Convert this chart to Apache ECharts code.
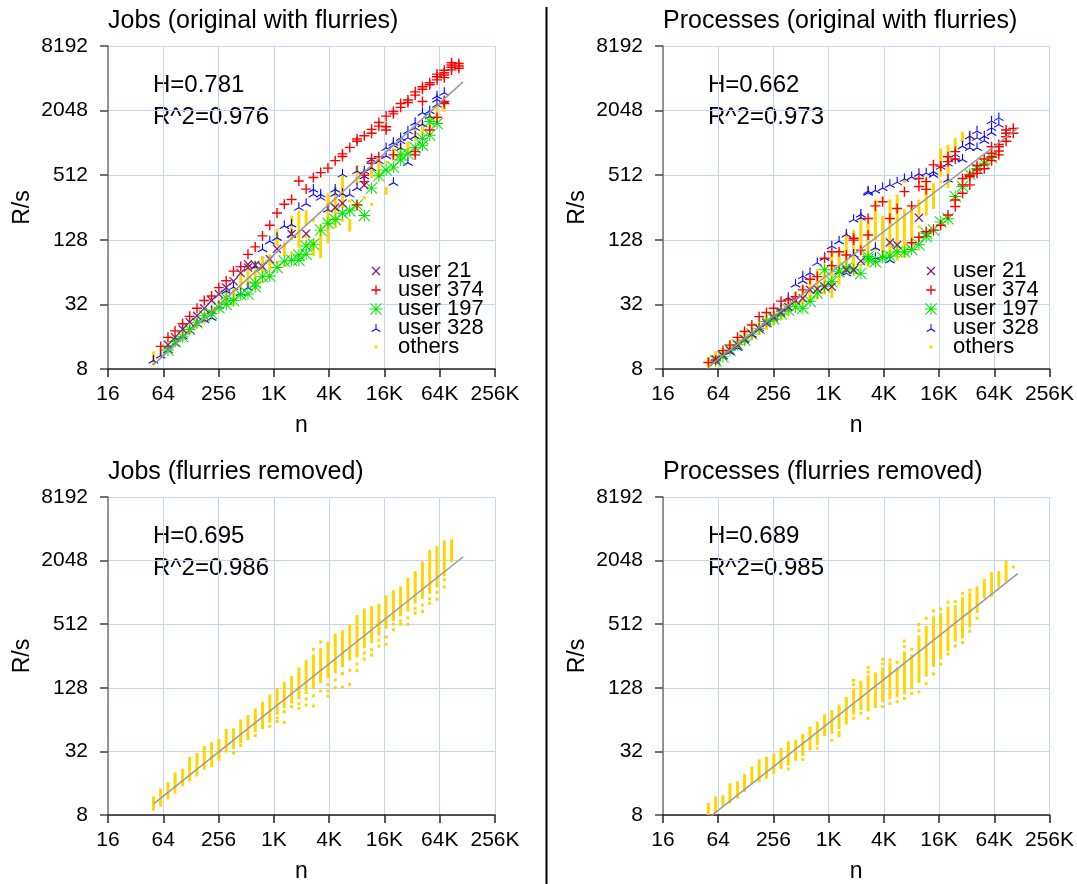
<!DOCTYPE html>
<html><head><meta charset="utf-8">
<script src="https://cdn.jsdelivr.net/npm/echarts@6/dist/echarts.min.js"></script>
<style>html,body{margin:0;padding:0;background:#fff}#c{width:1077px;height:884px}</style>
</head><body><div id="c"></div>
<script>
// Column positions: block sizes n (x values)
const nValues = [50,60,72,86,104,124,149,179,215,258,310,372,446,535,642,770,925,1109,1331,1597,1917,2300,2760,3312,3974,4769,5723,6868,8241,9890,11868,14241,17089,20507,24608,29530,35436,42523,51028,61234,73480,88176,105811];
const xTickLabels = ['16','64','256','1K','4K','16K','64K','256K'];
const yTickLabels = ['8','32','128','512','2048','8192'];
const panelTitles = ['Jobs (original with flurries)','Processes (original with flurries)','Jobs (flurries removed)','Processes (flurries removed)'];
const panelStats = [['H=0.781','R^2=0.976'],['H=0.662','R^2=0.973'],['H=0.695','R^2=0.986'],['H=0.689','R^2=0.985']];
const legendNames = ['user 21','user 374','user 197','user 328','others'];

// fit lines: [log2 n, log2 R/s]
const tlFitLine = [[5.63,3.12],[16.84,11.89]];
const trFitLine = [[5.64,3.07],[16.88,10.47]];
const blFitLine = [[5.66,3.36],[16.85,11.12]];
const brFitLine = [[5.64,2.90],[16.85,10.59]];

// user points: [column index into nValues, log2 R/s]
const tlUser374 = [[1,3.70],[2,3.98],[3,4.18],[4,4.40],[5,4.63],[6,4.88],[7,5.12],[8,5.26],[9,5.52],[10,5.73],[11,6.03],[12,6.17],[13,6.55],[14,6.78],[15,7.12],[16,7.45],[17,7.83],[18,8.10],[19,8.25],[20,8.82],[21,8.57],[22,8.93],[23,9.08],[24,9.22],[25,9.45],[26,9.66],[26,9.58],[27,9.86],[28,10.12],[28,10.05],[29,10.22],[30,10.42],[30,10.30],[31,10.63],[31,10.52],[32,10.83],[32,10.50],[32,10.40],[33,10.97],[33,10.90],[34,11.22],[34,11.10],[35,11.33],[35,11.25],[36,11.48],[36,11.58],[37,11.74],[37,11.66],[38,11.86],[38,11.80],[39,12.05],[39,12.13],[39,11.95],[40,12.17],[40,12.25],[40,12.10],[40,12.02],[41,12.41],[41,12.34],[41,12.48],[41,12.26],[42,12.46],[42,12.31],[42,12.38],
  [28,8.08],[29,8.80],[29,9.00],[30,9.37],[30,9.52],[31,9.57],[33,9.63],[36,9.63],[36,9.73],[37,11.28],[38,10.40],[39,10.79],[40,11.22],[40,11.28]];
const tlUser328 = [[0,3.30],[1,3.45],[2,3.62],[3,3.82],[4,4.05],[5,4.22],[6,4.43],[7,4.55],[8,4.62],[8,4.83],[9,4.98],[10,5.45],[11,5.57],[12,5.39],[13,5.55],[14,6.20],[15,6.74],[16,6.99],[17,7.10],[18,7.46],[19,7.51],[19,7.20],[20,8.03],[21,8.15],[22,8.44],[22,8.59],[23,8.34],[23,8.44],[24,7.97],[25,8.46],[25,8.59],[26,8.46],[26,9.06],[27,8.44],[28,8.64],[28,9.16],[29,9.00],[29,9.16],[30,9.26],[30,9.52],[31,9.47],[32,9.63],[32,9.88],[33,10.04],[33,9.96],[33,8.80],[34,10.09],[34,9.88],[34,10.19],[35,10.19],[35,10.40],[35,9.42],[36,10.66],[36,10.50],[36,10.24],[37,10.61],[37,10.97],[38,11.02],[38,10.86],[39,11.22],[39,11.38],[39,11.48],[40,11.59],[40,11.33]];
const tlUser197 = [[2,3.59],[3,3.85],[4,4.00],[5,4.22],[6,4.43],[7,4.65],[8,4.72],[9,4.90],[10,5.00],[10,5.19],[11,5.12],[12,5.30],[13,5.32],[14,5.55],[14,5.67],[15,5.86],[16,5.88],[17,6.14],[18,6.34],[19,6.37],[20,6.37],[20,6.53],[21,6.55],[21,6.81],[22,6.86],[23,7.30],[24,7.51],[25,7.63],[26,7.82],[27,7.90],[28,8.08],[29,7.75],[30,8.60],[31,8.98],[32,9.16],[33,9.25],[34,9.47],[34,9.63],[35,9.66],[36,9.85],[37,10.14],[37,9.93],[38,10.24],[38,10.66],[39,10.60]];
const tlUser21 = [[2,3.75],[3,3.98],[4,4.23],[5,4.45],[6,4.65],[7,4.88],[8,5.12],[9,5.32],[10,5.52],[11,5.72],[12,5.97],[13,6.14],[13,6.24],[14,6.22],[15,6.17],[16,6.40],[17,6.72],[19,7.18],[21,7.19],[25,8.00],[26,8.13],[29,8.70]];

const trUser374 = [[0,3.20],[1,3.28],[2,3.57],[3,3.74],[4,3.98],[5,4.16],[6,4.36],[7,4.62],[8,4.75],[9,4.88],[10,5.10],[11,5.14],[12,5.24],[13,5.45],[14,5.78],[15,5.86],[16,6.43],[17,6.20],[17,6.63],[18,6.63],[19,6.53],[20,6.99],[20,7.05],[21,6.68],[22,7.66],[22,7.15],[23,8.05],[24,8.18],[25,7.66],[26,7.97],[27,8.49],[28,8.05],[29,8.65],[29,8.90],[30,8.80],[30,8.56],[31,9.32],[32,9.28],[33,9.57],[33,9.42],[34,9.73],[34,9.50],
  [28,6.91],[29,7.08],[30,7.25],[31,7.30],[32,7.45],[33,7.77],[34,8.23],[34,8.03],[35,8.70],[35,8.44],[35,8.90],[36,8.95],[36,9.00],[36,8.70],[37,9.16],[37,9.06],[37,9.30],[38,9.32],[38,9.20],[38,9.50],[39,9.68],[39,9.57],[39,9.88],[39,9.45],[40,9.88],[40,9.63],[40,9.75],[40,9.95],[41,10.19],[41,10.30],[41,10.40],[41,10.05],[42,10.30],[42,10.45]];
const trUser328 = [[1,3.25],[2,3.43],[3,3.55],[4,3.69],[5,3.95],[6,4.10],[7,4.30],[8,4.50],[9,4.65],[10,4.90],[11,5.24],[12,5.65],[13,5.91],[13,5.76],[14,6.01],[15,6.32],[16,6.48],[17,6.84],[18,6.99],[18,6.05],[19,7.20],[19,6.00],[20,7.66],[20,6.58],[21,7.82],[21,7.72],[22,8.49],[22,8.54],[23,8.56],[23,6.79],[23,6.48],[24,8.64],[24,6.53],[25,8.74],[25,6.40],[26,8.82],[27,8.92],[28,8.98],[29,9.08],[30,9.10],[31,9.14],[31,9.05],[32,9.30],[33,9.40],[33,8.90],[34,9.68],[34,9.55],[35,9.93],[35,9.52],[36,10.04],[36,10.24],[36,9.88],[37,10.19],[37,10.40],[37,9.88],[38,10.24],[38,10.10],[39,10.35],[39,10.50],[39,10.71],[40,10.81],[40,10.60]];
const trUser197 = [[1,3.25],[2,3.38],[3,3.59],[4,3.75],[5,3.90],[6,4.08],[7,4.25],[8,4.47],[9,4.55],[10,4.70],[11,4.83],[12,4.93],[13,4.88],[14,5.10],[15,5.35],[16,5.55],[16,6.07],[17,5.70],[18,6.01],[19,6.12],[20,6.07],[21,5.96],[22,6.40],[22,6.48],[23,6.32],[24,6.45],[25,6.50],[26,6.62],[27,6.63],[28,6.70],[29,6.85],[30,7.10],[30,7.20],[31,7.30],[32,7.55],[33,7.65],[34,8.34],[35,8.65],[36,9.03],[37,9.21],[38,9.37],[39,9.55]];
const trUser21 = [[1,3.30],[2,3.42],[3,3.58],[4,3.75],[5,3.92],[6,4.08],[7,4.25],[8,4.42],[9,4.60],[10,4.75],[11,4.92],[12,5.12],[13,5.19],[14,5.45],[15,5.48],[16,5.55],[17,5.55],[19,6.07],[20,6.07],[21,6.34],[25,6.92],[26,6.84],[29,7.68]];

// "others": per column (index into nValues) a list of dense runs [lo,hi] or single dots, log2 R/s
const tlOthers = [[[3.17,3.50]],[[3.40,3.60]],[[3.55,3.78]],[[3.75,3.95]],[[3.92,4.15]],[[4.10,4.30]],[[4.30,4.52]],[[4.45,4.70]],[[4.60,4.90]],[[4.85,5.10]],
  [[5.05,5.40]],[[5.20,5.50],5.00],[[5.50,5.90]],[[5.60,6.25]],[[5.80,6.30],5.50],[[6.00,6.45],5.70],[[6.10,6.50],5.85],[[6.85,7.30],6.30],[[6.55,6.90],6.20],[[7.05,7.70],6.60],
  [[6.80,7.85]],[[7.50,7.87],6.90,7.10],[[6.55,6.99],7.60],[[6.48,7.41]],[[6.94,8.39]],[[7.41,8.59]],[[8.03,9.00],7.60],[[7.30,7.60],8.20],[[8.75,9.26],8.00],[[8.95,9.16],8.30],
  [[8.95,9.30],8.10],[[8.95,9.47]],[[8.44,8.59],9.40],[[9.50,9.80],9.20],[[9.60,9.95]],[[9.70,10.00]],[[10.10,10.40]],[[10.30,10.60]],[[10.50,10.85]],[[10.80,11.10]],[[11.00,11.30]],[],[]];
const trOthers = [[[3.07,3.33]],[[3.20,3.50]],[[3.38,3.62]],[[3.50,3.80]],[[3.65,3.95]],[[3.80,4.10]],[[3.95,4.25]],[[4.10,4.45]],[[4.25,4.60]],[[4.40,4.75]],
  [[4.55,4.95]],[[4.70,5.10]],[[4.90,5.35]],[[5.00,5.55]],[[5.10,5.75]],[[5.20,6.05]],[[5.35,6.10]],[[5.25,6.60]],[[5.65,6.65]],[[6.05,7.20]],
  [[6.00,7.25]],[[6.60,7.70],6.20],[[6.20,7.50]],[[7.00,8.20],6.70],[[6.40,7.70],8.30],[[6.50,8.20]],[[6.40,8.35]],[[6.50,7.90],8.80],[[6.90,8.00]],[[7.80,8.20],7.40],
  [[7.80,8.85]],[[8.00,8.70]],[[9.00,9.78],8.80],[[8.65,9.90]],[[9.75,10.10]],[[10.05,10.30]],[[10.10,10.30]],[],[],[],[],[],[]];
const blOthers = [[[3.18,3.54]],[[3.31,3.79]],[[3.54,3.98]],[[3.72,4.29]],[[3.95,4.41]],[[4.10,4.78]],[[4.26,4.91]],[[4.47,5.12]],[[4.55,5.24]],[[4.75,5.34]],
  [[5.01,5.66]],[[5.12,5.68],4.95],[[5.30,5.96],5.19],[[5.40,6.10]],[[5.65,6.30],5.50],[[5.75,6.51]],[[5.95,6.74],5.79],[[6.20,6.94],6.05,5.94],[[6.40,7.13],6.25,5.91],[[6.55,7.33],6.41],
  [[6.70,7.59],6.50,6.35],[[6.85,7.82],6.65,6.46],[[7.00,8.00],8.21,6.75,6.43],[[7.20,8.20],8.44,6.90],[[7.35,8.40],7.10,6.90,6.74],[[7.50,8.66],7.25,7.00],[[7.70,8.76],7.45,7.02],[[7.90,8.95],7.55,7.11],[[8.00,9.24],7.75,7.54],[[8.30,9.45],8.10,7.90],
  [[8.45,9.52],8.20,8.03],[[8.70,9.60],8.50,8.31],[[8.90,9.86],8.60,8.37],[[9.15,10.02],9.00,8.83],[[9.30,10.14],9.10,8.99],[[9.45,10.41],9.20,8.99],[[9.70,10.62],9.50,9.35],[[9.85,10.93],9.60,9.40],[[10.00,11.28],9.80,9.66],[[10.20,11.41],10.00,9.79],
  [[10.55,11.59],10.40,10.17],[[11.00,11.62]],[]];
const brOthers = [[[3.05,3.33]],[[3.10,3.54]],[[3.31,3.57]],[[3.41,3.95]],[[3.57,4.01]],[[3.77,4.24]],[[4.01,4.47]],[[4.08,4.70]],[[4.19,4.78]],[[4.34,4.88]],
  [[4.50,5.06]],[[4.60,5.27],4.45],[[4.75,5.32]],[[4.90,5.50],4.75],[[5.08,5.73]],[[5.25,5.89],5.10],[[5.53,6.12]],[[5.60,6.25],5.35],[[5.75,6.43],5.60,5.50],[[5.89,6.66]],
  [[6.20,6.95],6.04,7.10,7.23],[[6.35,7.18],6.20],[[6.30,7.35],6.04,7.50,7.64],[[6.41,7.44]],[[6.60,7.60],6.41,7.75,7.90],[[6.70,7.75],6.51,7.87],[[6.75,7.60],6.56,7.80],[[6.85,8.10],6.66,8.30,8.47],[[7.00,8.00],6.82,8.21],[[7.20,8.60],6.87,8.80,8.99],
  [[7.40,8.90],7.13,9.19],[[7.70,9.20],7.44,9.42],[[7.95,9.30],7.75,9.48],[[8.20,9.50],8.06,9.69],[[8.50,9.55],8.31,9.71],[[8.60,9.80],8.42,9.97],[[8.95,9.95],8.78,10.07],[[9.40,10.14],9.19],[[9.86,10.38]],[[9.91,10.59]],
  [[10.20,10.62]],[[10.38,10.95]],[10.80]];

const FONT = '"Liberation Sans", Arial, Helvetica, sans-serif';
const GRIDS = [{left:108,top:46},{left:663,top:46},{left:108,top:497},{left:663,top:497}];
const PLUS = 'path://M43,0H57V43H100V57H57V100H43V57H0V43H43Z';
const CROSS = 'path://M0,10L10,0L50,40L90,0L100,10L60,50L100,90L90,100L50,60L10,100L0,90L40,50Z';
const STAR = 'path://M46,0H54V46H100V54H54V100H46V54H0V46H46Z M0,6L6,0L50,44L94,0L100,6L56,50L100,94L94,100L50,56L6,100L0,94L44,50Z';
const TRI = 'path://M45,0H55V52H45Z M47.5,45.7L52.5,54.3L9.2,79.3L4.2,70.7Z M52.5,45.7L95.8,70.7L90.8,79.3L47.5,54.3Z';
const userStyles = {
  'user 328': {symbol: TRI, size: 10, color: '#0000ff', icon: 'path://M-20,-20M120,100M45,0H55V52H45Z M47.5,45.7L52.5,54.3L9.2,79.3L4.2,70.7Z M52.5,45.7L95.8,70.7L90.8,79.3L47.5,54.3Z'},
  'user 197': {symbol: STAR, size: 12, color: '#00e600', icon: STAR},
  'user 374': {symbol: PLUS, size: 10, color: '#ff0000', icon: 'path://M-14,-14M114,114M43,0H57V43H100V57H57V100H43V57H0V43H43Z'},
  'user 21':  {symbol: CROSS, size: 9, color: '#7f1a7f', icon: 'path://M-18,-18M118,118M0,10L10,0L50,40L90,0L100,10L60,50L100,90L90,100L50,60L10,100L0,90L40,50Z'}
};
const OTHERS_COLOR = '#ffd700';

function colX(k){ return Math.log2(nValues[k]); }
function othersData(cols){
  const out = [];
  cols.forEach((entries, k) => {
    entries.forEach(e => {
      if (Array.isArray(e)) out.push([colX(k), e[0], e[1]]);
      else out.push([colX(k), e, e]);
    });
  });
  return out;
}
function renderOthers(params, api){
  const x = api.value(0), lo = api.value(1), hi = api.value(2);
  const p1 = api.coord([x, hi]), p2 = api.coord([x, lo]);
  return {type:'rect', shape:{x:p1[0]-1.5, y:p1[1]-1.5, width:3, height:p2[1]-p1[1]+3}, style:{fill: OTHERS_COLOR}};
}

const panelData = [
  {others: tlOthers, users: {'user 328': tlUser328, 'user 197': tlUser197, 'user 374': tlUser374, 'user 21': tlUser21}, fit: tlFitLine},
  {others: trOthers, users: {'user 328': trUser328, 'user 197': trUser197, 'user 374': trUser374, 'user 21': trUser21}, fit: trFitLine},
  {others: blOthers, users: null, fit: blFitLine},
  {others: brOthers, users: null, fit: brFitLine}
];

const grid = [], xAxis = [], yAxis = [], series = [], graphic = [];
GRIDS.forEach((g, i) => {
  grid.push({left: g.left, top: g.top, width: 387, height: 323, containLabel: false});
  xAxis.push({
    type:'value', gridIndex:i, min:4, max:18, interval:2,
    axisLine:{show:true, onZero:false, lineStyle:{color:'#222', width:1.5}},
    axisTick:{show:true, inside:false, length:8, lineStyle:{color:'#222', width:1.5}},
    axisLabel:{margin:15, fontSize:21, fontFamily:FONT, color:'#000', hideOverlap:false,
      formatter: v => xTickLabels[Math.round((v-4)/2)]},
    splitLine:{show:true, lineStyle:{color:'#c3d5f6', width:1}},
    name:'n', nameLocation:'middle', nameGap:45, nameTextStyle:{fontSize:23, fontFamily:FONT, color:'#000'}
  });
  yAxis.push({
    type:'value', gridIndex:i, min:3, max:13, interval:2,
    axisLine:{show:true, onZero:false, lineStyle:{color:'#777', width:1.5}},
    axisTick:{show:true, inside:false, length:8, lineStyle:{color:'#444', width:1.5}},
    axisLabel:{margin:20, fontSize:21, fontFamily:FONT, color:'#000', hideOverlap:false,
      formatter: v => yTickLabels[Math.round((v-3)/2)]},
    splitLine:{show:true, lineStyle:{color:'#c3d5f6', width:1}},
    name:'R/s', nameLocation:'middle', nameGap:74, nameRotate:90, nameTextStyle:{fontSize:23, fontFamily:FONT, color:'#000'}
  });
  const pd = panelData[i];
  series.push({type:'custom', name:'others', xAxisIndex:i, yAxisIndex:i, renderItem: renderOthers,
    encode:{x:0, y:[1,2]}, data: othersData(pd.others), itemStyle:{color: OTHERS_COLOR}, silent:true, clip:false});
  if (pd.users) {
    Object.keys(pd.users).forEach(name => {
      const st = userStyles[name];
      series.push({type:'scatter', name, xAxisIndex:i, yAxisIndex:i, symbol: st.symbol, symbolSize: st.size,
        symbolKeepAspect: true, itemStyle:{color: st.color, opacity:1}, silent:true,
        data: pd.users[name].map(p => [colX(p[0]), p[1]])});
    });
  }
  series.push({type:'line', name:'fit', xAxisIndex:i, yAxisIndex:i, data: pd.fit, symbol:'none', silent:true,
    lineStyle:{color:'#999', width:1.5}, z:5});
  graphic.push({type:'text', x: g.left, y: g.top - 25, style:{text: panelTitles[i], font: '25px ' + FONT, fill:'#000', align:'left', verticalAlign:'middle'}});
  graphic.push({type:'text', x: g.left + 45, y: g.top + 39, style:{text: panelStats[i][0], font: '24px ' + FONT, fill:'#000', align:'left', verticalAlign:'middle'}});
  graphic.push({type:'text', x: g.left + 45, y: g.top + 71, style:{text: panelStats[i][1], font: '24px ' + FONT, fill:'#000', align:'left', verticalAlign:'middle'}});
});
graphic.push({type:'line', shape:{x1:546.5, y1:7, x2:546.5, y2:884}, style:{stroke:'#000', lineWidth:2}});

const legendData = legendNames.map(n => n === 'others'
  ? {name:n, icon:'path://M0,0M100,100M38,38H62V62H38Z'}
  : {name:n, icon: userStyles[n].icon});
function mkLegend(left){
  return {left, top:255, orient:'vertical', itemWidth:34, itemHeight:12, itemGap:-3, selectedMode:false,
    textStyle:{fontSize:22, fontFamily:FONT, color:'#000'}, data: legendData};
}

const chart = echarts.init(document.getElementById('c'), null, {renderer:'canvas'});
chart.setOption({
  animation:false,
  textStyle:{fontFamily:FONT},
  grid, xAxis, yAxis, series, graphic,
  legend:[mkLegend(364), mkLegend(919)]
});
</script></body></html>
